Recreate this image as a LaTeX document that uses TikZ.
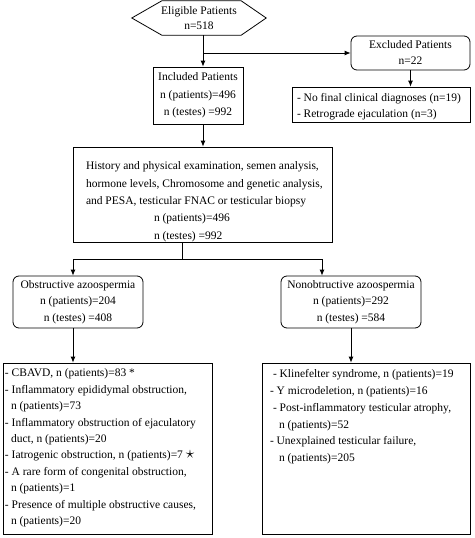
\documentclass[tikz,border=0pt]{standalone}
\usepackage{fontspec}
\setmainfont{Liberation Serif}
\usetikzlibrary{arrows.meta,calc}
\newcommand{\mybx}[5]{\parbox[c][#2][t]{#1}{\vspace*{#3}\fontsize{11.5}{#4}\selectfont\raggedright #5\par}}
\begin{document}
\begin{tikzpicture}[x=1pt,y=-1pt,
  every node/.style={font=\fontsize{11.5}{13}\selectfont},
  bx/.style={draw, rectangle, line width=0.8pt, inner ysep=0pt},
  rbx/.style={draw, rectangle, rounded corners=6pt, line width=0.8pt, inner sep=0pt, align=center},
  ln/.style={line width=0.8pt},
  arr/.style={-{Latex[length=6pt,width=5pt]}}]
\useasboundingbox (0,0) rectangle (474,538);

% Eligible (hexagon)
\node[inner sep=0pt, minimum width=134pt, minimum height=34pt, align=center,
      font=\fontsize{11.5}{15}\selectfont] (elig) at (199,18) {Eligible Patients\\n=518};
\draw[ln] (elig.west) -- ([xshift=30pt]elig.north west) -- ([xshift=-25pt]elig.north east)
  -- (elig.east) -- ([xshift=-25pt]elig.south east) -- ([xshift=30pt]elig.south west) -- cycle;

% Included
\node[rbx, rounded corners=0pt, minimum width=90pt, minimum height=57pt,
      font=\fontsize{11.5}{17.5}\selectfont] (incl) at (198,95.5)
  {Included Patients\\n (patients)=496\\n (testes) =992};

% Excluded
\node[rbx, minimum width=119pt, minimum height=34pt,
      font=\fontsize{11.5}{16}\selectfont] (excl) at (410.5,53) {Excluded Patients\\n=22};

% Excluded list
\node[bx, inner xsep=5pt] (exlist) at (381,104.5)
  {\mybx{168pt}{35pt}{6.5pt}{16pt}{- No final clinical diagnoses (n=19)\\- Retrograde ejaculation (n=3)}};

% Middle box
\node[bx, inner xsep=13pt] (mid) at (202.5,194.5)
  {\mybx{233pt}{95pt}{15pt}{17.3pt}{\mbox{History and physical examination, semen analysis,}\\
   \mbox{hormone levels, Chromosome and genetic analysis,}\\
   \mbox{and PESA, testicular FNAC or testicular biopsy}\\
   \hspace*{68pt}n (patients)=496\\
   \hspace*{68pt}n (testes) =992}};

% Obstructive / Nonobstructive
\node[rbx, minimum width=130pt, minimum height=52pt,
      font=\fontsize{11.5}{16.5}\selectfont] (obs) at (78,302)
  {Obstructive azoospermia\\n (patients)=204\\n (testes) =408};
\node[rbx, minimum width=140pt, minimum height=52pt,
      font=\fontsize{11.5}{16.5}\selectfont] (non) at (351,302)
  {Nonobtructive azoospermia\\n (patients)=292\\n (testes) =584};

% Bottom boxes
\node[bx, inner xsep=2pt] (left) at (107.5,448.5)
  {\mybx{205pt}{171pt}{6pt}{16.4pt}{- CBAVD, n (patients)=83 *\\
   - Inflammatory epididymal obstruction,\\
   \hspace*{6pt}n (patients)=73\\
   - Inflammatory obstruction of ejaculatory\\
   \hspace*{6pt}duct, n (patients)=20\\
   - Iatrogenic obstruction, n (patients)=7 {\fontsize{16}{16}\selectfont$\star$}\\
   - A rare form of congenital obstruction,\\
   \hspace*{6pt}n (patients)=1\\
   - Presence of multiple obstructive causes,\\
   \hspace*{6pt}n (patients)=20}};
\node[bx, inner xsep=8pt] (right) at (366,448.5)
  {\mybx{192pt}{171pt}{6.5pt}{16.8pt}{\hspace*{3pt}- Klinefelter syndrome, n (patients)=19\\
   - Y microdeletion, n (patients)=16\\
   \hspace*{3pt}- Post-inflammatory testicular atrophy,\\
   \hspace*{9pt}n (patients)=52\\
   - Unexplained testicular failure,\\
   \hspace*{9pt}n (patients)=205}};

% Connectors
\draw[ln,arr] ([xshift=4pt]elig.south) -- ([xshift=4pt]elig.south |- incl.north);
\coordinate (br) at ([xshift=4pt]elig.south |- excl.west);
\draw[ln,arr] (br) -- (excl.west);
\draw[ln,arr] (excl.south) -- (excl.south |- exlist.north);
\draw[ln,arr] ([xshift=5pt]incl.south) -- ([xshift=5pt]incl.south |- mid.north);
\coordinate (split) at (182,259);
\draw[ln] (split |- mid.south) -- (split);
\draw[ln,arr] (split) -| ([xshift=-5pt]obs.north);
\draw[ln,arr] (split) -| ([xshift=-29pt]non.north);
\draw[ln,arr] ([xshift=-5pt]obs.south) -- ([xshift=-5pt]obs.south |- left.north);
\draw[ln,arr] (non.south) -- (non.south |- right.north);
\end{tikzpicture}
\end{document}
